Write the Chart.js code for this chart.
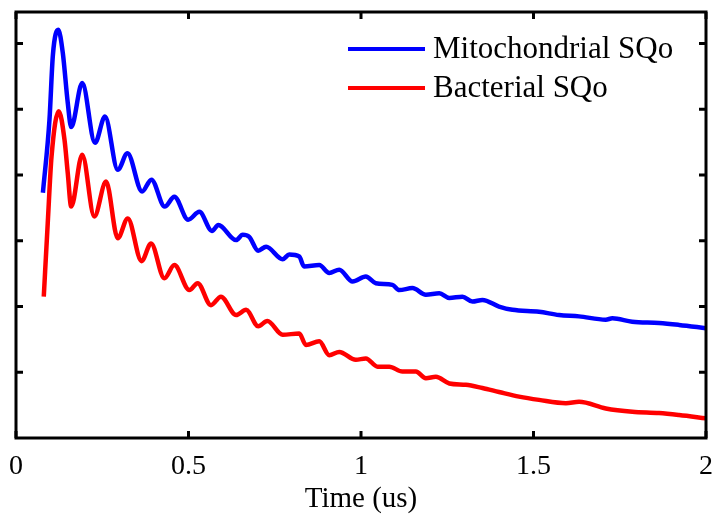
<!DOCTYPE html>
<html>
<head>
<meta charset="utf-8">
<script src="https://cdn.jsdelivr.net/npm/chart.js@4/dist/chart.umd.min.js"></script>
<style>
  html, body { margin: 0; padding: 0; background: #fff; }
  #wrap { width: 716px; height: 517px; }
</style>
</head>
<body>
<div id="wrap"><canvas id="chart" width="716" height="517"></canvas></div>
<script>
// --- DATA ---
const seriesLabels = ['Mitochondrial SQo', 'Bacterial SQo'];
const seriesColors = ['#0000ff', '#ff0000'];
const xTicks = [0, 0.5, 1, 1.5, 2];

const mitoTime = [0.078, 0.097, 0.107, 0.1225, 0.1356, 0.150, 0.160, 0.192, 0.229, 0.258, 0.295, 0.323,
  0.3655, 0.3925, 0.431, 0.459, 0.499, 0.5315, 0.568, 0.5865, 0.638, 0.657, 0.676, 0.702, 0.725, 0.773,
  0.792, 0.821, 0.835, 0.879, 0.908, 0.937, 0.9755, 1.014, 1.043, 1.091, 1.111, 1.149, 1.188, 1.227,
  1.256, 1.294, 1.323, 1.352, 1.400, 1.439, 1.516, 1.574, 1.632, 1.7095, 1.7285, 1.786, 1.864, 1.922, 2.0];
const mitoSignal = [3.73, 4.84, 5.83, 6.21, 5.86, 5.10, 4.73, 5.40, 4.49, 4.89, 4.08, 4.33,
  3.75, 3.93, 3.52, 3.67, 3.32, 3.44, 3.15, 3.24, 3.01, 3.09, 3.06, 2.85, 2.91, 2.72,
  2.79, 2.76, 2.61, 2.63, 2.51, 2.56, 2.38, 2.455, 2.355, 2.33, 2.25, 2.28, 2.18, 2.20,
  2.13, 2.15, 2.075, 2.10, 2.00, 1.95, 1.92, 1.87, 1.85, 1.80, 1.82, 1.77, 1.75, 1.72, 1.67];

const bactTime = [0.0805, 0.092, 0.103, 0.124, 0.1405, 0.150, 0.160, 0.192, 0.227, 0.261, 0.295, 0.324,
  0.364, 0.3915, 0.430, 0.459, 0.5025, 0.5265, 0.565, 0.594, 0.638, 0.667, 0.702, 0.7285, 0.773,
  0.821, 0.8405, 0.879, 0.908, 0.937, 0.985, 1.014, 1.048, 1.082, 1.120, 1.159, 1.188, 1.217,
  1.256, 1.304, 1.352, 1.400, 1.458, 1.516, 1.594, 1.632, 1.7095, 1.7865, 1.864, 1.922, 2.0];
const bactSignal = [2.15, 3.27, 4.28, 4.97, 4.54, 4.03, 3.52, 4.31, 3.37, 3.90, 3.04, 3.34,
  2.69, 2.96, 2.43, 2.63, 2.25, 2.355, 2.02, 2.15, 1.87, 1.95, 1.70, 1.78, 1.57,
  1.59, 1.415, 1.47, 1.26, 1.31, 1.19, 1.21, 1.085, 1.085, 1.01, 1.01, 0.91, 0.93,
  0.83, 0.81, 0.76, 0.70, 0.63, 0.58, 0.53, 0.55, 0.45, 0.40, 0.38, 0.35, 0.30];

const toPoints = (xs, ys) => xs.map((x, i) => ({ x: x, y: ys[i] }));

// --- FRAME, INWARD TICKS AND LEGEND ---
const framePlugin = {
  id: 'frame',
  afterDraw(chart) {
    const ctx = chart.ctx;
    const a = chart.chartArea;
    const xs = chart.scales.x, ys = chart.scales.y;
    const len = 7;
    ctx.save();
    ctx.strokeStyle = '#000';
    ctx.lineWidth = 3;
    ctx.strokeRect(a.left, a.top, a.right - a.left, a.bottom - a.top);
    ctx.beginPath();
    xTicks.forEach(v => {
      const px = xs.getPixelForValue(v);
      ctx.moveTo(px, a.bottom); ctx.lineTo(px, a.bottom - len);
      ctx.moveTo(px, a.top); ctx.lineTo(px, a.top + len);
    });
    for (let v = 1; v <= 6; v++) {
      const py = ys.getPixelForValue(v);
      ctx.moveTo(a.left, py); ctx.lineTo(a.left + len, py);
      ctx.moveTo(a.right, py); ctx.lineTo(a.right - len, py);
    }
    ctx.stroke();

    // legend
    ctx.font = '31px "Liberation Serif", "Times New Roman", serif';
    ctx.textBaseline = 'middle';
    ctx.textAlign = 'left';
    chart.data.datasets.forEach((ds, i) => {
      const y = 49 + i * 39;
      ctx.strokeStyle = ds.borderColor;
      ctx.lineWidth = 4;
      ctx.beginPath();
      ctx.moveTo(348, y); ctx.lineTo(425, y);
      ctx.stroke();
      ctx.fillStyle = '#000';
      ctx.fillText(ds.label, 433, y + 1);
    });
    ctx.restore();
  }
};

new Chart(document.getElementById('chart'), {
  type: 'line',
  data: {
    datasets: [
      { label: seriesLabels[0], data: toPoints(mitoTime, mitoSignal), borderColor: seriesColors[0] },
      { label: seriesLabels[1], data: toPoints(bactTime, bactSignal), borderColor: seriesColors[1] }
    ]
  },
  options: {
    responsive: false,
    animation: false,
    layout: { padding: { left: 16, right: 10, top: 12, bottom: 0 } },
    elements: {
      line: { borderWidth: 4.5, cubicInterpolationMode: 'monotone', fill: false },
      point: { radius: 0 }
    },
    scales: {
      x: {
        type: 'linear', min: 0, max: 2,
        afterFit: s => { s.height = 79; s.paddingLeft = 0; s.paddingRight = 0; },
        afterBuildTicks: s => { s.ticks = xTicks.map(v => ({ value: v })); },
        grid: { display: false, drawTicks: false },
        border: { display: false },
        ticks: {
          color: '#000', padding: 12, maxRotation: 0,
          callback: v => String(v),
          font: { family: '"Liberation Serif", "Times New Roman", serif', size: 28 }
        },
        title: {
          display: true, text: 'Time (us)', color: '#000',
          padding: { top: 0, bottom: 0 },
          font: { family: '"Liberation Serif", "Times New Roman", serif', size: 29 }
        }
      },
      y: { type: 'linear', min: 0, max: 6.48, display: false }
    },
    plugins: { legend: { display: false }, tooltip: { enabled: false } }
  },
  plugins: [framePlugin]
});
</script>
</body>
</html>
